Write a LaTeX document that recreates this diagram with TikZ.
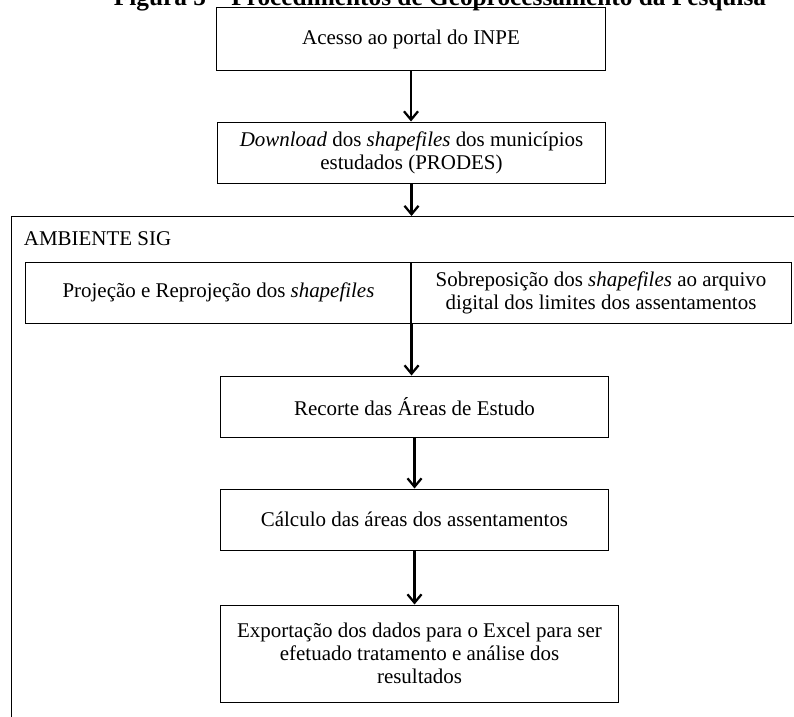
\documentclass[tikz,border=0pt]{standalone}
\usepackage{fontspec}
\setmainfont{Liberation Serif}
\usetikzlibrary{arrows.meta}
\tikzset{>={Straight Barb[length=6pt,width=10pt]}}
\tikzset{etapa/.style={draw, line width=0.7pt, align=center, inner sep=0pt, font=\fontsize{14.9}{16.3}\selectfont},
  seta/.style={->, line width=1.6pt}}

\begin{document}
\begin{tikzpicture}[x=0.025cm, y=-0.025cm]
\clip (0,0) rectangle (794,716);
\node[anchor=base, font=\fontsize{18}{20}\selectfont\bfseries] (titulo) at (440,6) {Figura 5 -- Procedimentos de Geoprocessamento da Pesquisa};
\node[etapa, minimum width=9.7cm, minimum height=1.55cm] (inpe) at (411,39) {Acesso ao portal do INPE};
\node[etapa, minimum width=9.72cm, minimum height=1.525cm] (download) at (411.5,152.5) {\textit{Download} dos \textit{shapefiles} dos municípios\\estudados (PRODES)};
\node[draw, line width=0.7pt, anchor=north west, minimum width=19.725cm, minimum height=12.6cm] (sig) at (11,216) {};
\node[anchor=base west, font=\fontsize{14.9}{16.3}\selectfont] (sigtit) at (19,245) {AMBIENTE SIG};
\node[etapa, minimum width=9.625cm, minimum height=1.525cm] (proj) at (218.5,292.5) {Projeção e Reprojeção dos \textit{shapefiles}};
\node[etapa, minimum width=9.5cm, minimum height=1.525cm] (sobrep) at (601,292.5) {Sobreposição dos \textit{shapefiles} ao arquivo\\digital dos limites dos assentamentos};
\node[etapa, minimum width=9.675cm, minimum height=1.525cm] (recorte) at (414.5,406.5) {Recorte das Áreas de Estudo};
\node[etapa, minimum width=9.675cm, minimum height=1.525cm] (calculo) at (414.5,519.5) {Cálculo das áreas dos assentamentos};
\node[etapa, minimum width=9.925cm, minimum height=2.425cm] (export) at (419.5,653.5) {Exportação dos dados para o Excel para ser\\efetuado tratamento e análise dos\\resultados};
\draw[seta] (inpe.south) -- (inpe.south |- download.north);
\draw[seta] (download.south) -- (download.south |- sig.north);
\draw[seta] (proj.south east) -- (proj.south east |- recorte.north);
\draw[seta] (recorte.south) -- (recorte.south |- calculo.north);
\draw[seta] (calculo.south) -- (calculo.south |- export.north);
\end{tikzpicture}
\end{document}
